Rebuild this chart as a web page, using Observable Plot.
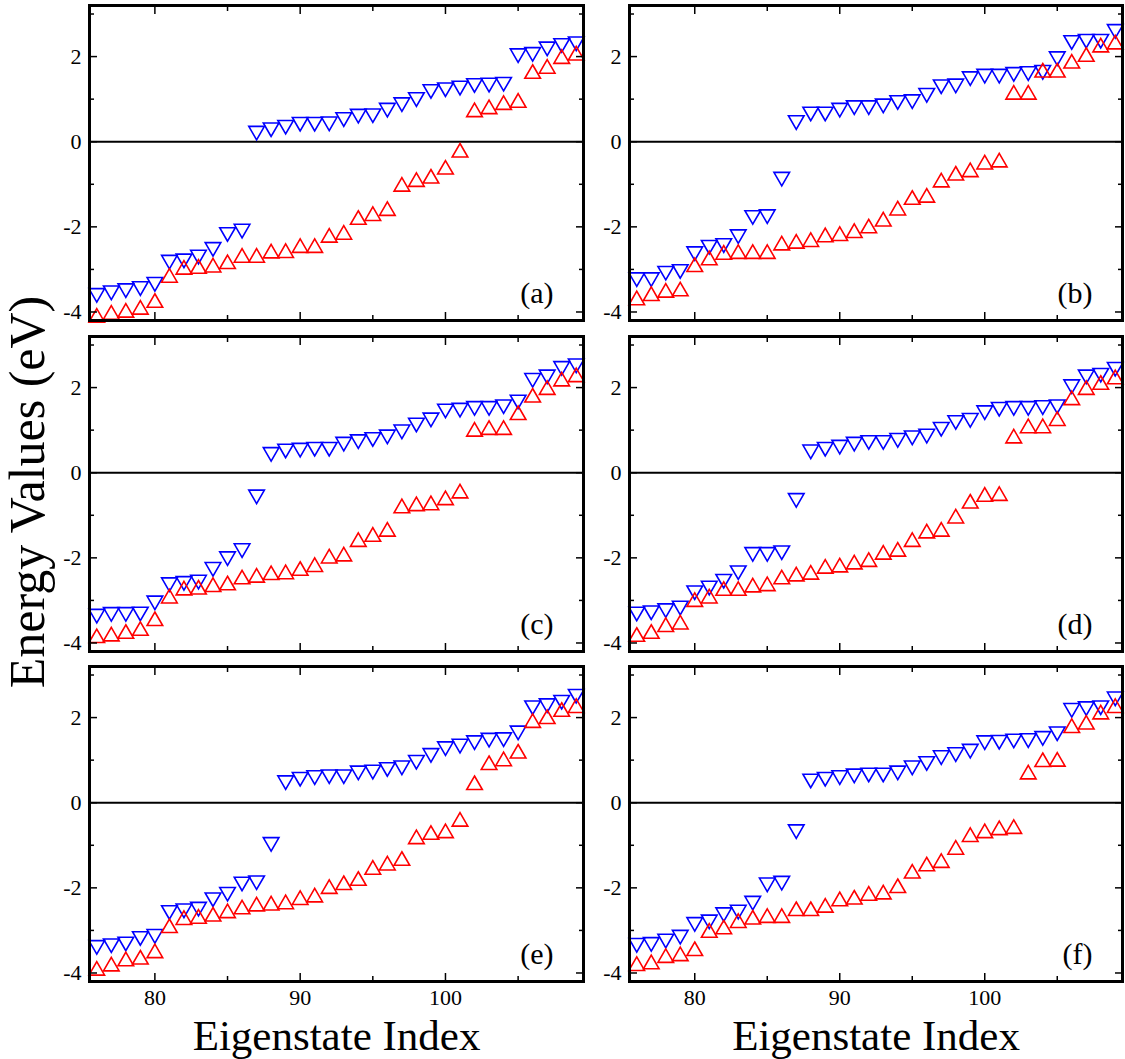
<!DOCTYPE html>
<html>
<head>
<meta charset="utf-8">
<script src="https://cdn.jsdelivr.net/npm/d3@7"></script>
<script src="https://cdn.jsdelivr.net/npm/@observablehq/plot@0.6"></script>
<style>
  html, body { margin: 0; padding: 0; background: #fff; }
  #fig { position: relative; width: 1125px; height: 1059px; overflow: hidden; font-family: "Liberation Serif", "Times New Roman", serif; }
  .panel { position: absolute; }
  .panel svg { overflow: visible; }
  #ytitle { position: absolute; left: 27px; top: 492px; transform: translate(-50%, -50%) rotate(-90deg); font-size: 50px; white-space: nowrap; line-height: 1; }
</style>
</head>
<body>
<div id="fig"><div id="ytitle">Energy Values (eV)</div></div>
<script>
// Eigenstate indices shown on the x axis
const eigenIndex = [76,77,78,79,80,81,82,83,84,85,86,87,88,89,90,91,92,93,94,95,96,97,98,99,100,101,102,103,104,105,106,107,108,109];

// Panel labels
const panelLabels = ["(a)", "(b)", "(c)", "(d)", "(e)", "(f)"];

// Red up-triangles (one value per eigenstate index), per panel
const redA = [-4.08,-4.01,-3.96,-3.89,-3.73,-3.14,-2.95,-2.93,-2.90,-2.82,-2.67,-2.67,-2.57,-2.56,-2.44,-2.44,-2.20,-2.13,-1.78,-1.69,-1.57,-1.00,-0.89,-0.81,-0.60,-0.20,0.75,0.82,0.92,0.97,1.65,1.77,2.00,2.08];
const redB = [-3.67,-3.57,-3.49,-3.46,-2.89,-2.73,-2.60,-2.58,-2.58,-2.58,-2.38,-2.34,-2.30,-2.19,-2.16,-2.09,-1.98,-1.82,-1.56,-1.31,-1.26,-0.90,-0.74,-0.66,-0.48,-0.43,1.16,1.16,1.68,1.68,1.89,2.05,2.27,2.34];
const redC = [-3.83,-3.79,-3.73,-3.66,-3.43,-2.90,-2.71,-2.69,-2.63,-2.59,-2.45,-2.41,-2.35,-2.33,-2.25,-2.16,-1.96,-1.91,-1.57,-1.45,-1.33,-0.78,-0.73,-0.71,-0.59,-0.43,1.02,1.06,1.06,1.41,1.82,2.00,2.20,2.30];
const redD = [-3.80,-3.73,-3.57,-3.51,-2.98,-2.90,-2.72,-2.72,-2.64,-2.61,-2.45,-2.38,-2.34,-2.20,-2.17,-2.10,-2.04,-1.87,-1.80,-1.57,-1.37,-1.33,-1.02,-0.67,-0.51,-0.49,0.86,1.10,1.10,1.27,1.76,2.00,2.12,2.25];
const redE = [-3.89,-3.79,-3.67,-3.63,-3.48,-2.89,-2.70,-2.67,-2.62,-2.54,-2.45,-2.38,-2.36,-2.33,-2.23,-2.17,-1.97,-1.88,-1.78,-1.52,-1.42,-1.31,-0.80,-0.70,-0.66,-0.39,0.47,0.94,1.03,1.21,1.93,2.02,2.19,2.28];
const redF = [-3.78,-3.74,-3.59,-3.55,-3.43,-3.00,-2.92,-2.77,-2.69,-2.65,-2.65,-2.49,-2.49,-2.41,-2.26,-2.22,-2.13,-2.10,-1.95,-1.61,-1.44,-1.36,-1.05,-0.75,-0.66,-0.59,-0.56,0.72,1.01,1.02,1.81,1.89,2.13,2.28];

// Blue down-triangles, per panel
const blueA = [-3.61,-3.55,-3.50,-3.45,-3.35,-2.83,-2.80,-2.71,-2.53,-2.18,-2.10,0.20,0.28,0.34,0.41,0.41,0.42,0.52,0.60,0.61,0.74,0.87,0.99,1.18,1.22,1.26,1.32,1.33,1.35,2.02,2.05,2.18,2.26,2.30];
const blueB = [-3.24,-3.24,-3.09,-3.05,-2.63,-2.48,-2.44,-2.23,-1.78,-1.76,-0.88,0.45,0.65,0.65,0.74,0.80,0.80,0.84,0.92,0.94,1.09,1.29,1.31,1.48,1.54,1.54,1.58,1.60,1.63,1.95,2.33,2.36,2.36,2.59];
const blueC = [-3.37,-3.33,-3.33,-3.32,-3.06,-2.63,-2.60,-2.57,-2.27,-2.02,-1.83,-0.57,0.43,0.51,0.53,0.55,0.55,0.67,0.73,0.78,0.84,0.96,1.12,1.24,1.45,1.47,1.51,1.51,1.55,1.66,2.17,2.25,2.45,2.51];
const blueD = [-3.32,-3.29,-3.24,-3.18,-2.82,-2.71,-2.55,-2.35,-1.92,-1.92,-1.88,-0.65,0.49,0.55,0.60,0.67,0.71,0.71,0.76,0.82,0.86,1.02,1.18,1.23,1.41,1.49,1.51,1.51,1.53,1.55,2.02,2.25,2.29,2.43];
const blueE = [-3.40,-3.36,-3.32,-3.19,-3.14,-2.58,-2.54,-2.50,-2.28,-2.15,-1.91,-1.88,-0.98,0.47,0.55,0.59,0.61,0.61,0.70,0.72,0.78,0.82,0.95,1.11,1.27,1.33,1.41,1.47,1.48,1.64,2.23,2.28,2.36,2.50];
const blueF = [-3.35,-3.33,-3.25,-3.16,-2.86,-2.80,-2.63,-2.57,-2.36,-1.93,-1.89,-0.68,0.51,0.55,0.59,0.63,0.65,0.65,0.70,0.82,0.92,1.06,1.13,1.21,1.41,1.42,1.45,1.46,1.51,1.62,2.17,2.21,2.23,2.44];

// Axis ticks
const xTicks = [80, 90, 100];
const xMinorTicks = [85, 95, 105];
const yTicks = [-4, -2, 0, 2];
const yMinorTicks = [-3, -1, 1, 3];
const xDomain = [75.5, 109.5];
const yDomain = [-4.2, 3.2];
const xTitle = "Eigenstate Index";

const redSeries = [redA, redB, redC, redD, redE, redF];
const blueSeries = [blueA, blueB, blueC, blueD, blueE, blueF];

const fig = document.getElementById("fig");
const colLeft = [0, 585];
const rowTop = [0, 331, 661];

const tickFmt = d => String(d);
const none = () => "";

for (let p = 0; p < 6; p++) {
  const col = p % 2, row = Math.floor(p / 2);
  const bottomRow = row === 2;
  const up = eigenIndex.map((k, i) => ({k, v: redSeries[p][i]}));
  const down = eigenIndex.map((k, i) => ({k, v: blueSeries[p][i]}));
  const width = col === 0 ? 585 : 540;
  const height = bottomRow ? 398 : 331;
  const marks = [
    Plot.ruleY([0], {stroke: "black", strokeWidth: 2}),
    Plot.dot(down, {x: "k", y: "v", symbol: "triangle", rotate: 180, r: 5.8, stroke: "#0000ff", strokeWidth: 1.6, fill: "none", dy: -2.3}),
    Plot.dot(up, {x: "k", y: "v", symbol: "triangle", r: 5.8, stroke: "#ff0000", strokeWidth: 1.6, fill: "none", dy: 2.3}),
    Plot.frame({stroke: "black", strokeWidth: 3}),
    Plot.axisX({anchor: "bottom", ticks: xTicks, tickSize: -8, tickPadding: 16, strokeWidth: 1.5, tickFormat: bottomRow ? tickFmt : none, label: null, fontSize: 22}),
    Plot.axisX({anchor: "bottom", ticks: xMinorTicks, tickSize: -5, strokeWidth: 1.5, tickFormat: none, label: null}),
    Plot.axisX({anchor: "top", ticks: xTicks, tickSize: -8, strokeWidth: 1.5, tickFormat: none, label: null}),
    Plot.axisX({anchor: "top", ticks: xMinorTicks, tickSize: -5, strokeWidth: 1.5, tickFormat: none, label: null}),
    Plot.axisY({anchor: "left", ticks: yTicks, tickSize: -8, tickPadding: 16, strokeWidth: 1.5, tickFormat: tickFmt, label: null, fontSize: 22}),
    Plot.axisY({anchor: "left", ticks: yMinorTicks, tickSize: -5, strokeWidth: 1.5, tickFormat: none, label: null}),
    Plot.axisY({anchor: "right", ticks: yTicks, tickSize: -8, strokeWidth: 1.5, tickFormat: none, label: null}),
    Plot.axisY({anchor: "right", ticks: yMinorTicks, tickSize: -5, strokeWidth: 1.5, tickFormat: none, label: null}),
    Plot.text([panelLabels[p]], {frameAnchor: "bottom-right", textAnchor: "end", lineAnchor: "bottom", dx: -30, dy: -18, fontSize: 30, fill: "black"})
  ];
  if (bottomRow) {
    marks.push(Plot.text([xTitle], {frameAnchor: "bottom", lineAnchor: "bottom", dy: 68, fontSize: 43, fill: "black"}));
  }
  const chart = Plot.plot({
    width, height,
    marginLeft: col === 0 ? 89 : 44,
    marginRight: col === 0 ? 2 : 3,
    marginTop: 5,
    marginBottom: bottomRow ? 78 : 11,
    x: {domain: xDomain},
    y: {domain: yDomain},
    style: {fontFamily: "'Liberation Serif', 'Times New Roman', serif", color: "black", background: "transparent", overflow: "visible"},
    marks
  });
  const wrap = document.createElement("div");
  wrap.className = "panel";
  wrap.style.left = colLeft[col] + "px";
  wrap.style.top = rowTop[row] + "px";
  wrap.appendChild(chart);
  fig.appendChild(wrap);
}
</script>
</body>
</html>
